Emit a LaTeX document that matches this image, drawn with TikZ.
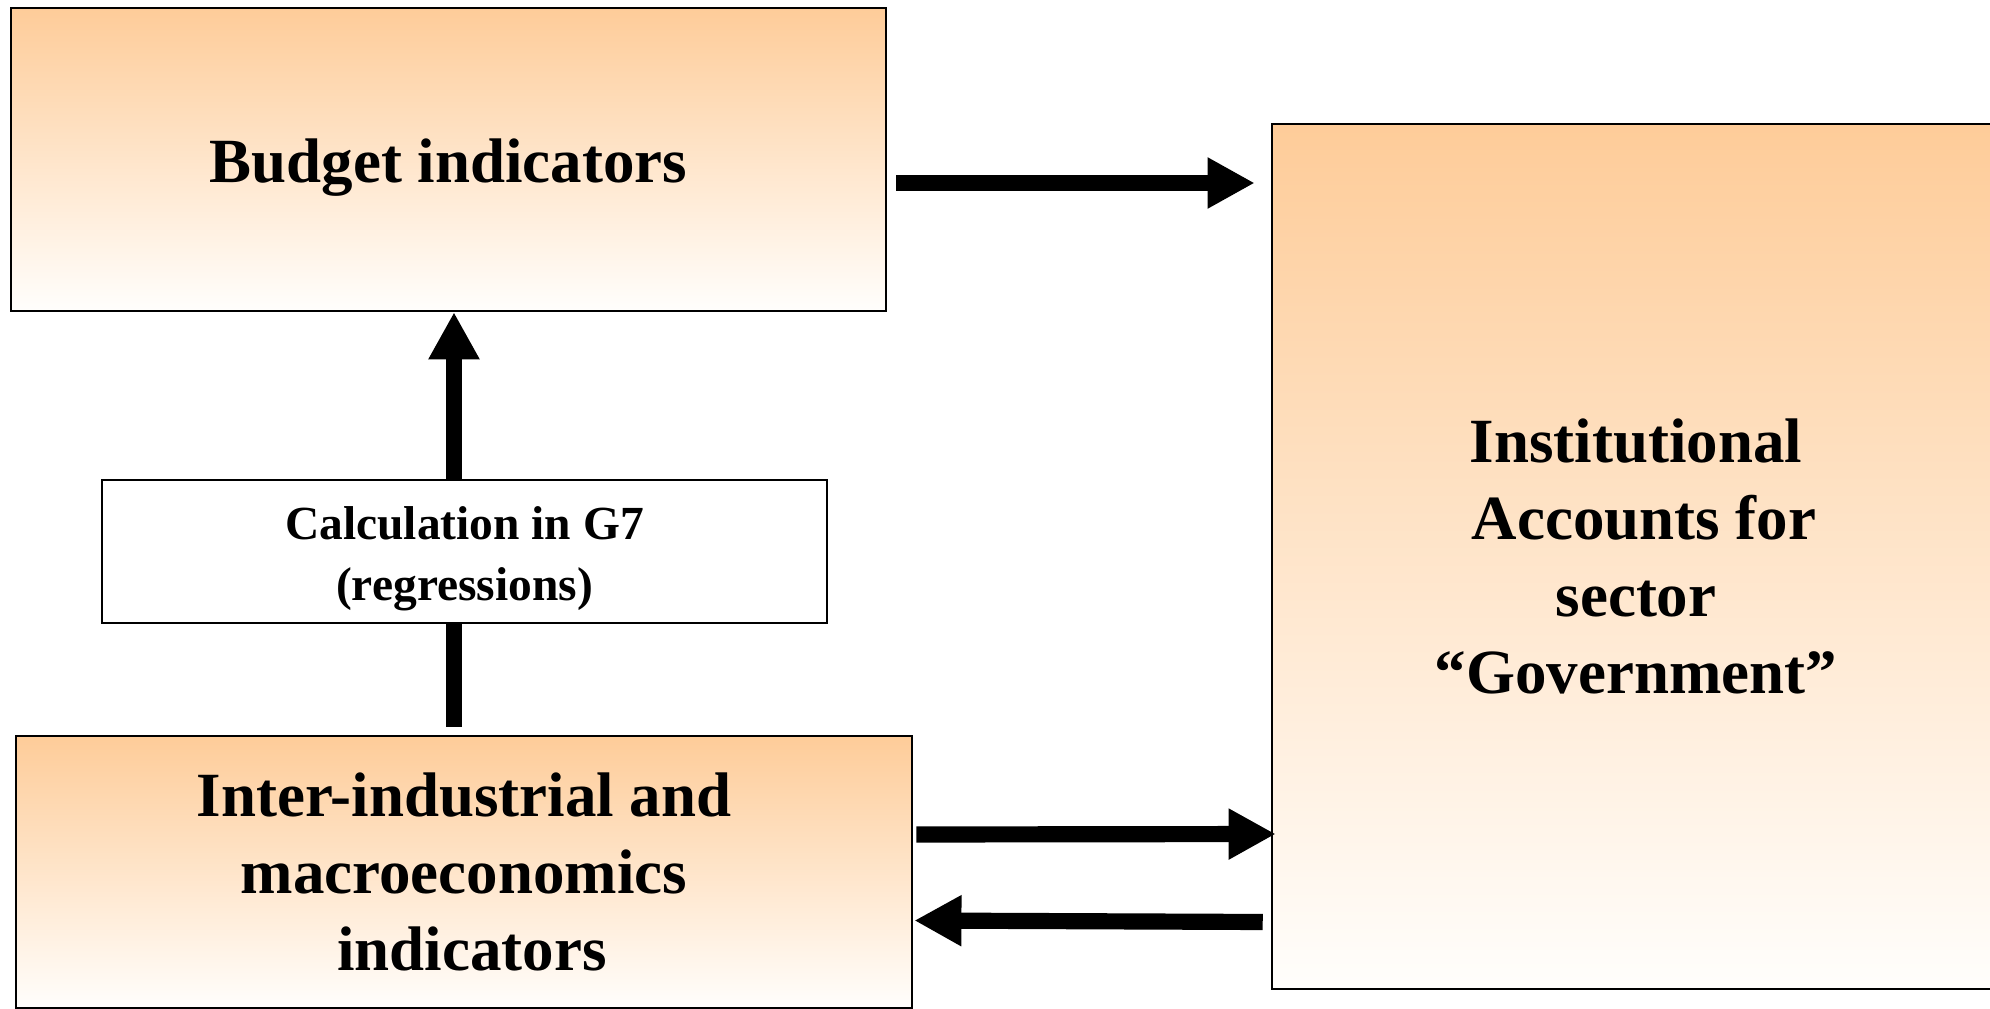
\documentclass[tikz,border=0pt]{standalone}
\usepackage{fontspec}
\setmainfont{Liberation Serif}
\usetikzlibrary{calc,arrows.meta}
\definecolor{boxtop}{RGB}{254,204,153}
\definecolor{boxbot}{RGB}{255,254,252}
\newcommand{\lowertext}[2]{\raisebox{-#1}[\height][\depth]{#2}}
\begin{document}
\begin{tikzpicture}[x=0.01cm,y=-0.01cm,
  gbox/.style={draw=black,line width=0.6pt,top color=boxtop,bottom color=boxbot,
    align=center,inner sep=0pt,font=\bfseries\fontsize{17.9}{21.9}\selectfont},
  wbox/.style={draw=black,line width=0.6pt,fill=white,inner sep=0pt,
    font=\bfseries\fontsize{13.5}{17.4}\selectfont},
  arr/.style={line width=4.6pt,line cap=butt,-{Triangle[length=13.4pt,width=13.6pt]}},
  bar/.style={line width=4.6pt,line cap=butt}]
\path[use as bounding box] (0,0) rectangle (1990,1009);
\clip (0,0) rectangle (1990,1009);
\node[gbox,minimum width=8.75cm,minimum height=3.03cm] (budget) at (448.5,159.5) {\lowertext{0.08cm}{Budget indicators}};
\node[wbox,minimum width=7.25cm,minimum height=1.43cm] (calc) at (464.5,551.5)
  {\lowertext{0.06cm}{\setlength{\tabcolsep}{0pt}\begin{tabular}{c}Calculation in G7\\(regressions)\end{tabular}}};
\node[gbox,minimum width=8.96cm,minimum height=2.72cm] (inter) at (464,872) {Inter-industrial and\\macroeconomics\\\ indicators};
\node[gbox,minimum width=7.28cm,minimum height=8.65cm] (gov) at (1636,556.5) {Institutional\\\ Accounts for\\sector\\“Government”};
\draw[arr] ($(budget.east)+(9,23.5)$) -- ($(gov.west)+(-16,-373.5)$);
\draw[arr] ($(calc.north)+(-10.5,0)$) -- ($(budget.south)+(5.5,0)$);
\draw[bar] ($(inter.north)+(-10,-8)$) -- ($(calc.south)+(-10.5,0)$);
\draw[arr] ($(inter.east)+(3,-37.5)$) -- ($(gov.west)+(5,277.5)$);
\draw[arr] ($(gov.west)+(-8,365.5)$) -- ($(inter.east)+(1,48.5)$);
\end{tikzpicture}
\end{document}
